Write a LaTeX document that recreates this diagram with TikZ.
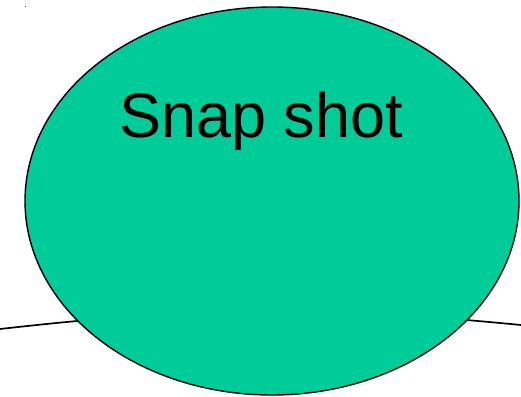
\documentclass[tikz,border=0pt]{standalone}
\usepackage{fontspec}
\setmainfont{Liberation Sans}
\usetikzlibrary{shapes.geometric,positioning}
\definecolor{snapgreen}{RGB}{0,204,153}
\tikzset{
    snapblob/.style={ellipse, draw=black, line width=1.4pt, fill=snapgreen,
        minimum width=494pt, minimum height=388pt, inner sep=0pt},
    snaplabel/.style={font=\fontsize{63}{72}\selectfont, inner sep=0pt},
    horizon/.style={line width=1.7pt, black}
}
\begin{document}
\begin{tikzpicture}[x=1pt, y=-1pt]

    % Cornice del disegno
    \useasboundingbox (0,0) rectangle (521,396);

    % --- LINEA DI FONDO (dietro l'ellisse) ---
    \coordinate (H1) at (0, 329);
    \coordinate (H2) at (521, 325);
    \draw[horizon] (H1) to[bend left=6] (H2);

    % --- ELLISSE ---
    \node[snapblob] (snap) at (272, 201) {};

    % Etichetta
    \node[snaplabel, anchor=base] (snaptext) at (261, 137) {Snap shot};

    % Puntino in alto a sinistra
    \fill[black!70] (24.6, 6) rectangle (25.6, 7.5);

\end{tikzpicture}
\end{document}
